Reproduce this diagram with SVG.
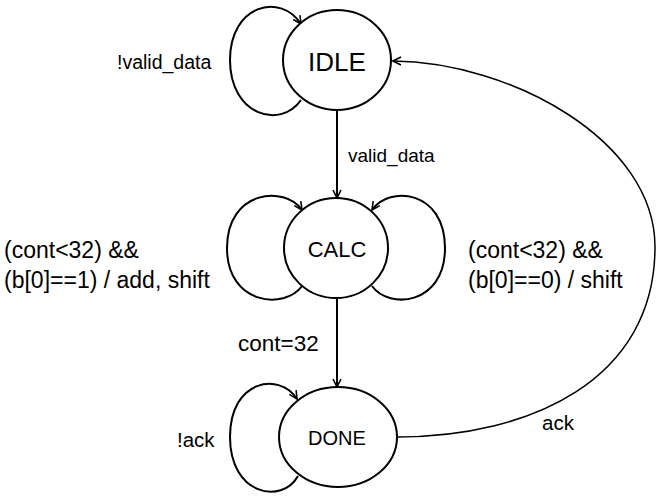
<svg xmlns="http://www.w3.org/2000/svg" width="662" height="500" viewBox="0 0 662 500">
  <style>
    .state { fill: #ffffff; stroke: #000000; stroke-width: 2; }
    .name { font-family: "Liberation Sans", Arial, sans-serif; text-anchor: middle; fill: #000000; }
    .edge { fill: none; stroke: #000000; stroke-width: 2; marker-end: url(#arrow); }
    .thin { stroke-width: 1.5; }
    .label { font-family: "Liberation Sans", Arial, sans-serif; fill: #000000; }
  </style>
  <defs>
    <marker id="arrow" viewBox="0 0 10 10" refX="9" refY="5" markerWidth="10" markerHeight="10" markerUnits="userSpaceOnUse" orient="auto">
      <path d="M1,1 L9,5 L1,9" fill="none" stroke="#000000" stroke-width="1.6"/>
    </marker>
  </defs>
  <rect width="662" height="500" fill="#ffffff"/>

  <!-- transitions -->
  <g id="connectors">
    <path class="edge" d="M301,100 C280,130 230,115 230,60 C230,5 280,-8 301,24"/>
    <path class="edge" d="M337,110 L337,198"/>
    <path class="edge" d="M302,286 C285,310 227,305 227,248 C227,190 285,185 302,210"/>
    <path class="edge" d="M372,286 C389,310 445,305 445,248 C445,190 389,185 372,210"/>
    <path class="edge" d="M337,298 L337,387"/>
    <path class="edge" d="M298,476 C282,505 230,495 230,437 C230,379 280,372 297,399"/>
    <path class="edge thin" d="M397,437 C530,437 655,380 655,247 C655,140 510,62 393,61"/>
  </g>

  <g id="idle">
    <ellipse class="state" cx="337" cy="60" rx="54" ry="50"/>
    <text class="name" x="337" y="71" font-size="26">IDLE</text>
  </g>
  <g id="calc">
    <ellipse class="state" cx="336" cy="248" rx="52" ry="50"/>
    <text class="name" x="337" y="257" font-size="22">CALC</text>
  </g>
  <g id="done">
    <ellipse class="state" cx="338" cy="437" rx="59" ry="50"/>
    <text class="name" x="337" y="445" font-size="20">DONE</text>
  </g>

  <g id="labels">
    <text class="label" x="117" y="69" font-size="19.5">!valid_data</text>
    <text class="label" x="348" y="162" font-size="19">valid_data</text>
    <text class="label" x="4" y="258" font-size="23">(cont&lt;32) &amp;&amp;</text>
    <text class="label" x="4" y="288" font-size="23">(b[0]==1) / add, shift</text>
    <text class="label" x="468" y="258" font-size="23">(cont&lt;32) &amp;&amp;</text>
    <text class="label" x="468" y="288" font-size="23">(b[0]==0) / shift</text>
    <text class="label" x="238" y="351" font-size="22.5">cont=32</text>
    <text class="label" x="177" y="447" font-size="20.5">!ack</text>
    <text class="label" x="542" y="430" font-size="20.5">ack</text>
  </g>
</svg>
